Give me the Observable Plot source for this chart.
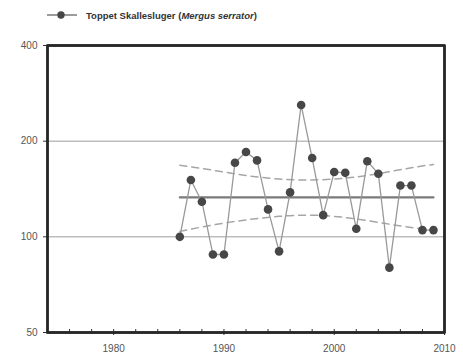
<!DOCTYPE html>
<html><head><meta charset="utf-8">
<script src="https://cdn.jsdelivr.net/npm/d3@7"></script>
<script src="https://cdn.jsdelivr.net/npm/@observablehq/plot@0.6"></script>
<style>
body{margin:0;background:#fff;font-family:"Liberation Sans",Arial,sans-serif;}
#wrap{position:relative;width:463px;height:360px;}
#legend{position:absolute;left:0;top:0;height:30px;width:463px;}
</style></head>
<body><div id="wrap"><div id="chart"></div><svg id="legend" width="463" height="30"></svg></div>
<script>
const years = [1986,1987,1988,1989,1990,1991,1992,1993,1994,1995,1996,1997,1998,1999,2000,2001,2002,2003,2004,2005,2006,2007,2008,2009];
const counts = [100,151,129,88,88,171,185,174,122,90,138,260,177,117,160,159,106,173,158,80,145,145,105,105];
const meanYears = [1986,2009];
const meanValue = 133;
const bandYears = [1986,1989,1992,1995,1998,2001,2004,2007,2009];
const bandUpper = [168,162,156,152,151,153,158,165,169];
const bandLower = [104,109,113,116,117,115,111,107,105];
const yTicks = [50,100,200,400];
const gridValues = [100,200];
const xDomain = [1974,2010];
const yDomain = [50,400];
const xMajorTicks = [1980,1990,2000,2010];
const xMinorTicks = d3.range(1974,2011,2);
const legendLabel = ["Toppet Skallesluger (","Mergus serrator",")"];

const pointRows = years.map((y,i)=>({year:y,value:counts[i]}));
const upperRows = bandYears.map((y,i)=>({year:y,value:bandUpper[i]}));
const lowerRows = bandYears.map((y,i)=>({year:y,value:bandLower[i]}));
const meanRows = meanYears.map(y=>({year:y,value:meanValue}));
const frameRows = [
  {year:xDomain[0],value:yDomain[0]},{year:xDomain[0],value:yDomain[1]},
  {year:xDomain[1],value:yDomain[1]},{year:xDomain[1],value:yDomain[0]},
  {year:xDomain[0],value:yDomain[0]}
];

const chart = Plot.plot({
  width:463, height:360,
  marginLeft:47, marginRight:19, marginTop:45, marginBottom:28,
  style:{fontFamily:"Liberation Sans, Arial, sans-serif", fontSize:"10px", color:"#333", background:"#fff"},
  x:{domain:xDomain},
  y:{type:"log", domain:yDomain},
  marks:[
    Plot.ruleY(gridValues,{stroke:"#bdbdbd",strokeWidth:1.5}),
    Plot.line(upperRows,{x:"year",y:"value",curve:"natural",stroke:"#a6a6a6",strokeWidth:1.5,strokeDasharray:"7,5"}),
    Plot.line(lowerRows,{x:"year",y:"value",curve:"natural",stroke:"#a6a6a6",strokeWidth:1.5,strokeDasharray:"7,5"}),
    Plot.line(meanRows,{x:"year",y:"value",stroke:"#7a7a7a",strokeWidth:2.2}),
    Plot.line(pointRows,{x:"year",y:"value",stroke:"#999",strokeWidth:1.3}),
    Plot.dot(pointRows,{x:"year",y:"value",r:4.3,fill:"#474747"}),
    Plot.axisY({ticks:yTicks,tickFormat:d=>String(d),tickSize:4,tickPadding:6,stroke:"#333",label:null,fill:"#555"}),
    Plot.axisX({ticks:xMinorTicks,tickSize:-3,text:null,stroke:"#333",label:null}),
    Plot.axisX({ticks:xMajorTicks,tickFormat:d=>String(d),tickSize:3,tickPadding:9,stroke:"#333",label:null,fill:"#555"}),
    Plot.line(frameRows,{x:"year",y:"value",stroke:"#262626",strokeWidth:2.4,strokeLinejoin:"miter"}),
    Plot.frame({stroke:"#262626",strokeWidth:2.4})
  ]
});
document.getElementById("chart").appendChild(chart);

// legend
const lg = d3.select("#legend");
lg.append("line").attr("x1",47).attr("x2",77).attr("y1",15).attr("y2",15).attr("stroke","#666").attr("stroke-width",1.3);
lg.append("circle").attr("cx",61).attr("cy",15).attr("r",3.7).attr("fill","#474747");
const lgText = lg.append("text").attr("x",86).attr("y",18.5).attr("font-size","9.5px").attr("font-weight","bold").attr("fill","#333").attr("font-family","Liberation Sans, Arial, sans-serif");
lgText.append("tspan").text(legendLabel[0]);
lgText.append("tspan").attr("font-style","italic").text(legendLabel[1]);
lgText.append("tspan").text(legendLabel[2]);
</script></body></html>
